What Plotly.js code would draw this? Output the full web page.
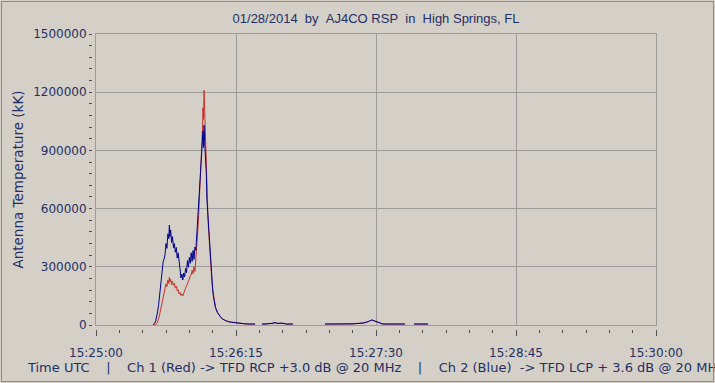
<!DOCTYPE html>
<html>
<head>
<meta charset="utf-8">
<script src="https://cdn.plot.ly/plotly-3.0.1.min.js"></script>
<style>
  html, body { margin:0; padding:0; background:#d4d0c8; overflow:hidden; }
  #chart { position:absolute; left:0; top:0; width:715px; height:383px; }
  #frame { position:absolute; left:1px; top:1px; width:711px; height:379px; border:1px solid #8c8c8c; pointer-events:none; }
</style>
</head>
<body>
<div id="chart"></div>
<div id="frame"></div>
<script>
// seconds after 15:25:00 UTC
const tSec = [30.5,31,31.5,32,32.5,33,33.5,34,34.5,35,35.5,36,36.5,37,37.5,38,38.5,39,39.3,39.6,
  40,40.5,41,41.5,42,42.5,43,43.5,44,44.5,45,45.5,46,46.5,47,47.5,48,48.5,49,49.5,
  50,50.5,51,51.5,52,52.5,53,53.5,54,54.5,55,55.5,56,56.5,57,57.3,57.6,57.9,58.2,58.5,
  58.8,59.1,59.4,59.7,60,60.5,61,61.5,62,62.5,63,63.5,64,65,66,67,68,69,70,72,
  74,76,78,80,82,85.2,85.3,88.9,91,94.3,96,97.5,99.6,102,105.5,105.6,122.7,130,137.7,143,
  145.5,147.7,150,153,153.7,160,165.5,165.6,170.4,174,177.9];

// Ch 1 (Red) antenna temperature, kK
const ch1Red = [0,0,0,2000,6000,15000,30000,50000,75000,100000,122000,148000,168000,192000,212000,198000,232000,214000,246000,222000,
  236000,208000,226000,204000,216000,190000,201000,176000,182000,160000,168000,152000,160000,150000,168000,178000,190000,200000,214000,226000,
  244000,252000,258000,282000,264000,300000,276000,330000,400000,480000,565000,660000,780000,900000,1000000,1120000,1060000,1210000,1100000,1050000,
  960000,840000,715000,620000,545000,462000,372000,298000,238000,186000,146000,114000,92000,66000,49000,38000,30000,25000,20000,15000,
  12000,9000,7000,6000,5000,5000,null,5000,5000,8000,11000,8000,9000,5000,5000,null,5000,5000,6000,10000,
  16000,26000,18000,9000,5000,5000,5000,null,5000,5000,5000];

// Ch 2 (Blue) antenna temperature, kK
const ch2Blue = [1000,4000,10000,22000,42000,68000,100000,145000,195000,250000,300000,328000,340000,365000,420000,395000,470000,445000,515000,455000,
  490000,425000,455000,398000,420000,375000,400000,345000,372000,305000,290000,242000,262000,232000,268000,248000,292000,270000,332000,298000,
  348000,318000,372000,328000,384000,338000,402000,385000,460000,540000,605000,680000,745000,825000,905000,1000000,915000,1030000,945000,900000,
  875000,780000,650000,600000,540000,460000,370000,292000,232000,182000,140000,110000,90000,65000,48000,38000,30000,25000,20000,15000,
  12000,9000,7000,6000,5000,5000,null,5000,5000,9000,12000,8000,10000,5000,5000,null,5000,5000,6000,10000,
  16000,26000,18000,9000,5000,5000,5000,null,5000,5000,5000];

const xTickVals = [0, 75, 150, 225, 300];
const xTickLabels = ["15:25:00", "15:26:15", "15:27:30", "15:28:45", "15:30:00"];

const titleText = "01/28/2014\u00a0\u00a0by\u00a0\u00a0AJ4CO RSP\u00a0\u00a0in\u00a0\u00a0High Springs, FL";
const sp = "\u00a0\u00a0\u00a0\u00a0";
const xTitleText = "Time UTC" + sp + "|" + sp + "Ch 1 (Red) -> TFD RCP +3.0 dB @ 20 MHz" + sp + "|" + sp +
  "Ch 2 (Blue)\u00a0\u00a0-> TFD LCP + 3.6 dB @ 20 MHz";
const yTitleText = "Antenna Temperature (kK)";

const gridCol = "#9c9c9c";
const tickCol = "#505050";
const textCol = "#1f2f66";

const traces = [
  { x: tSec, y: ch1Red, type: "scatter", mode: "lines", line: { color: "#c8322a", width: 1 }, connectgaps: false, hoverinfo: "skip" },
  { x: tSec, y: ch2Blue, type: "scatter", mode: "lines", line: { color: "#00008c", width: 1 }, connectgaps: false, hoverinfo: "skip" },
  { x: [], y: [], xaxis: "x2", yaxis: "y2", type: "scatter", mode: "lines", hoverinfo: "skip", showlegend: false }
];

const layout = {
  width: 715, height: 383,
  paper_bgcolor: "#d4d0c8", plot_bgcolor: "#d4d0c8",
  margin: { l: 92, r: 59, t: 34, b: 54 },
  showlegend: false, hovermode: false,
  font: { family: "DejaVu Sans", size: 12, color: textCol },
  title: { text: titleText, font: { family: "Liberation Sans", size: 13, color: textCol },
           x: 376/715, xref: "container", xanchor: "center", y: 1 - 18/383, yref: "container", yanchor: "middle" },
  xaxis: {
    domain: [4/564, 1], range: [0, 300], tickvals: xTickVals, showticklabels: false, ticks: "",
    showgrid: true, gridcolor: gridCol, gridwidth: 1, zeroline: false,
    showline: true, linecolor: gridCol, linewidth: 1, mirror: true, fixedrange: true
  },
  yaxis: {
    domain: [4/295, 1], range: [0, 1500000], dtick: 300000, showticklabels: false, ticks: "",
    showgrid: true, gridcolor: gridCol, gridwidth: 1, zeroline: false,
    showline: true, linecolor: gridCol, linewidth: 1, mirror: true, fixedrange: true
  },
  xaxis2: {
    overlaying: "x", anchor: "free", position: 0, side: "bottom", range: [0, 300],
    tickmode: "array", tickvals: xTickVals, ticktext: xTickLabels,
    ticks: "outside", ticklen: 6, tickcolor: tickCol, tickwidth: 1,
    minor: { tick0: 0, dtick: 12.5, ticks: "outside", ticklen: 3, tickcolor: tickCol, showgrid: false },
    showgrid: false, zeroline: false, showline: false, fixedrange: true,
    ticklabelstandoff: 7,
    tickfont: { family: "DejaVu Sans", size: 12, color: textCol },
    title: { text: xTitleText, standoff: 3, font: { family: "DejaVu Sans", size: 13, color: textCol } }
  },
  yaxis2: {
    overlaying: "y", anchor: "free", position: 0, side: "left", range: [0, 1500000],
    dtick: 300000, tickformat: "d",
    ticks: "outside", ticklen: 3, tickcolor: tickCol, tickwidth: 1,
    minor: { dtick: 60000, ticks: "outside", ticklen: 3, tickcolor: tickCol, showgrid: false },
    showgrid: false, zeroline: false, showline: false, fixedrange: true,
    tickfont: { family: "DejaVu Sans", size: 12, color: textCol },
    title: { text: yTitleText, standoff: 5, font: { family: "DejaVu Sans", size: 13.5, color: textCol } }
  }
};

Plotly.newPlot("chart", traces, layout, { staticPlot: true, displayModeBar: false });
</script>
</body>
</html>
